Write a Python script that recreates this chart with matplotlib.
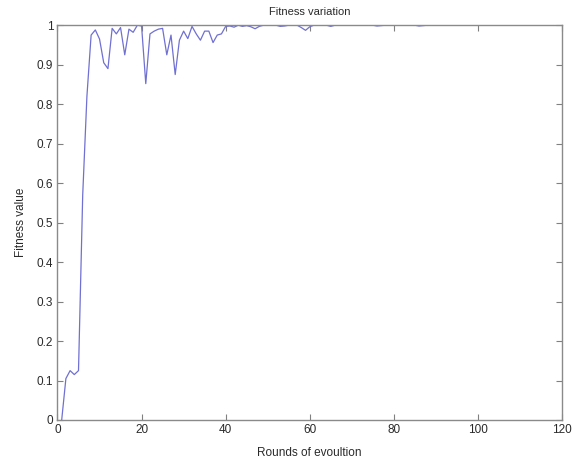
import matplotlib
matplotlib.use("Agg")
import matplotlib.pyplot as plt
import numpy as np

# fitness per round
rodadas = list(range(1, 101))
fitness = [
    0.0, 0.105, 0.125, 0.115, 0.125, 0.57, 0.82, 0.975, 0.988, 0.965,
    0.905, 0.89, 0.992, 0.978, 0.994, 0.925, 0.99, 0.982, 1.0, 0.998,
    0.852, 0.978, 0.985, 0.99, 0.992, 0.925, 0.975, 0.875, 0.962, 0.985,
    0.966, 0.997, 0.978, 0.962, 0.985, 0.985, 0.956, 0.975, 0.978, 0.997,
    0.998, 0.995, 1.0, 0.997, 0.999, 0.996, 0.991, 0.997, 1.0, 1.0,
    1.0, 1.0, 0.997, 0.998, 1.0, 1.0, 1.0, 0.994, 0.987, 0.996,
    1.0, 1.0, 1.0, 1.0, 0.997, 1.0, 1.0, 1.0, 1.0, 1.0,
    1.0, 1.0, 1.0, 1.0, 1.0, 0.998, 0.999, 1.0, 1.0, 1.0,
    1.0, 1.0, 1.0, 1.0, 1.0, 0.998, 0.999, 1.0, 1.0, 1.0,
    1.0, 1.0, 1.0, 1.0, 1.0, 1.0, 1.0, 1.0, 1.0, 1.0,
]
xticks = [0, 20, 40, 60, 80, 100, 120]
yticks = [0, 0.1, 0.2, 0.3, 0.4, 0.5, 0.6, 0.7, 0.8, 0.9, 1]
ytick_labels = ["0", "0.1", "0.2", "0.3", "0.4", "0.5", "0.6", "0.7", "0.8", "0.9", "1"]

plt.rcParams['font.family'] = ['Liberation Sans', 'DejaVu Sans']

fig = plt.figure(figsize=(5.72, 4.65), dpi=100)
ax = fig.add_axes([0.1005, 0.0968, 0.882, 0.849])

ax.plot(rodadas, fitness, color='#7070d2', linewidth=0.9)

ax.set_xlim(0, 120)
ax.set_ylim(0, 1)
ax.set_xticks(xticks)
ax.set_yticks(yticks)
ax.set_yticklabels(ytick_labels)
ax.tick_params(direction='in', length=4, width=0.8, color='#808080',
               labelsize=8.5, top=True, right=True, pad=3, labelcolor='#2a2a2a')
for s in ax.spines.values():
    s.set_color('#8a8a8a')
    s.set_linewidth(1.0)

ax.set_title('Fitness variation', fontsize=8, pad=7, color='#2a2a2a')
ax.set_xlabel('Rounds of evoultion', fontsize=8.5, color='#2a2a2a', labelpad=8)
ax.set_ylabel('Fitness value', fontsize=8.5, color='#2a2a2a', labelpad=7)

fig.savefig('out.png', dpi=100)
